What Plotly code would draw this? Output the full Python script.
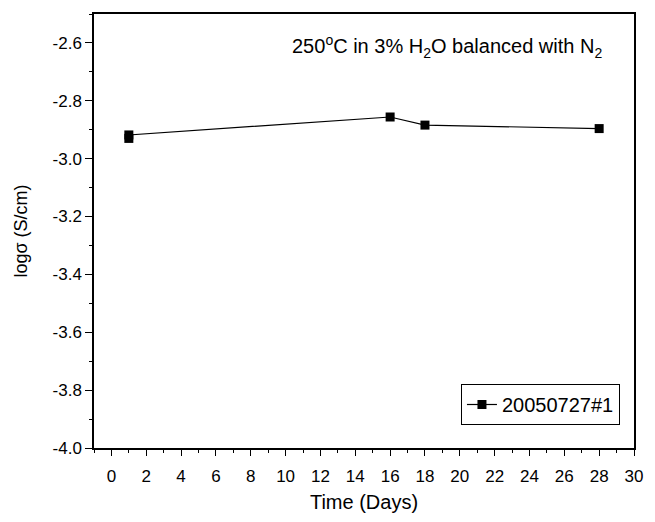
import plotly.graph_objects as go

days = [1, 1, 16, 18, 28]
log_sigma = [-2.93, -2.918, -2.856, -2.884, -2.896]
series_name = "20050727#1"

x_ticks = list(range(0, 31, 2))
y_ticks = [-4.0, -3.8, -3.6, -3.4, -3.2, -3.0, -2.8, -2.6]

FONT = "Arial, 'Liberation Sans', sans-serif"

fig = go.Figure()
fig.add_trace(go.Scatter(
    x=days, y=log_sigma, mode="lines+markers", name=series_name,
    line=dict(color="black", width=1.2),
    marker=dict(symbol="square", size=9, color="black"),
))

axis_common = dict(
    showline=True, linecolor="black", linewidth=1.5, mirror=True,
    showgrid=False, zeroline=False, ticks="outside", tickcolor="black",
    tickwidth=1.2,
    tickfont=dict(family=FONT, size=17, color="black"),
)

fig.update_xaxes(
    range=[-1, 30], tickvals=x_ticks, ticktext=[str(v) for v in x_ticks],
    ticklen=6, ticklabelstandoff=6,
    title=dict(text="Time (Days)", font=dict(family=FONT, size=20, color="black"), standoff=10),
    minor=dict(ticks="outside", dtick=1, tick0=0, ticklen=3, tickcolor="black", tickwidth=1.2),
    **axis_common,
)
fig.update_yaxes(
    range=[-4.0, -2.5], tickvals=y_ticks, ticktext=[f"{v:.1f}" for v in y_ticks],
    ticklen=7,
    title=dict(text="logσ (S/cm)", font=dict(family=FONT, size=18, color="black"), standoff=20),
    minor=dict(ticks="outside", dtick=0.1, tick0=-4.0, ticklen=3.5, tickcolor="black", tickwidth=1.2),
    **axis_common,
)

fig.add_annotation(
    x=0.945, y=0.925, xref="paper", yref="paper", xanchor="right", yanchor="middle",
    text="250<sup>o</sup>C in 3% H<sub>2</sub>O balanced with N<sub>2</sub>",
    showarrow=False, font=dict(family=FONT, size=20, color="black"),
)

fig.update_layout(
    width=655, height=522,
    margin=dict(l=94, r=13, t=13, b=66),
    paper_bgcolor="white", plot_bgcolor="white",
    showlegend=True,
    legend=dict(
        x=0.974, y=0.053, xanchor="right", yanchor="bottom",
        bordercolor="black", borderwidth=1, bgcolor="white",
        font=dict(family=FONT, size=20, color="black"),
    ),
)

fig.write_html("out.html")
